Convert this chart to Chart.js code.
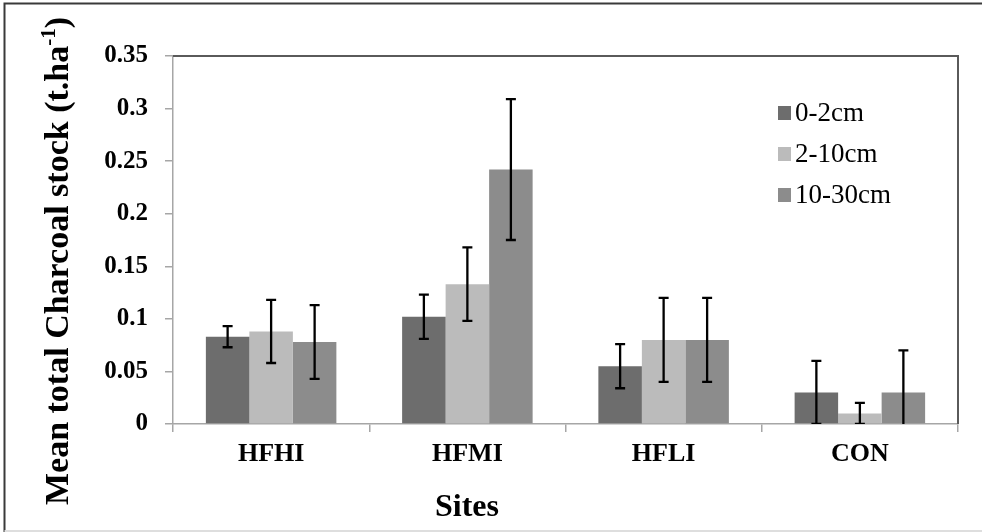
<!DOCTYPE html>
<html><head><meta charset="utf-8">
<script src="https://cdn.jsdelivr.net/npm/chart.js@4"></script>
<style>html,body{margin:0;padding:0;background:#fff;overflow:hidden}#wrap{width:982px;height:532px}</style>
</head><body><div id="wrap"><canvas id="c" width="982" height="532"></canvas></div>
<script>
const categories = ['HFHI', 'HFMI', 'HFLI', 'CON'];
const seriesNames = ['0-2cm', '2-10cm', '10-30cm'];
const values0to2 = [0.083, 0.102, 0.055, 0.030];
const values2to10 = [0.088, 0.133, 0.080, 0.010];
const values10to30 = [0.078, 0.242, 0.080, 0.030];
const err0to2 = [0.010, 0.021, 0.021, 0.030];
const err2to10 = [0.030, 0.035, 0.040, 0.010];
const err10to30 = [0.035, 0.067, 0.040, 0.040];
const seriesColors = ['#6d6d6d', '#bbbbbb', '#8c8c8c'];
const yTickLabels = ['0', '0.05', '0.1', '0.15', '0.2', '0.25', '0.3', '0.35'];
const yTitleMain = 'Mean total Charcoal stock (t.ha';
const yTitleSup = '-1';
const yTitleEnd = ')';
const xTitle = 'Sites';

const FONT = "'Liberation Serif', 'Times New Roman', serif";
const seriesValues = [values0to2, values2to10, values10to30];
const seriesErrors = [err0to2, err2to10, err10to30];

const figurePlugin = {
  id: 'figure',
  beforeDraw(chart) {
    const c = chart.ctx;
    c.save();
    c.fillStyle = '#fff';
    c.fillRect(0, 0, chart.width, chart.height);
    c.strokeStyle = '#3a3a3a';
    c.lineWidth = 2;
    c.beginPath(); c.moveTo(4.5, 532); c.lineTo(4.5, 3.5); c.lineTo(982, 3.5); c.stroke();
    c.strokeStyle = '#dedede';
    c.beginPath(); c.moveTo(4.5, 531); c.lineTo(982, 531); c.stroke();
    c.restore();
  },
  afterDatasetsDraw(chart) {
    const c = chart.ctx;
    const ys = chart.scales.y;
    const a = chart.chartArea;
    c.save();
    c.beginPath(); c.rect(a.left, a.top - 2, a.right - a.left, a.bottom - a.top + 2); c.clip();
    c.strokeStyle = '#000';
    c.lineWidth = 2.3;
    seriesValues.forEach((vals, i) => {
      const meta = chart.getDatasetMeta(i);
      vals.forEach((v, j) => {
        const x = meta.data[j].x;
        const hi = ys.getPixelForValue(v + seriesErrors[i][j]);
        const lo = ys.getPixelForValue(v - seriesErrors[i][j]);
        c.beginPath();
        c.moveTo(x, hi); c.lineTo(x, lo);
        c.moveTo(x - 5, hi); c.lineTo(x + 5, hi);
        c.moveTo(x - 5, lo); c.lineTo(x + 5, lo);
        c.stroke();
      });
    });
    c.restore();
    c.save();
    c.strokeStyle = '#5a5a5a';
    c.lineWidth = 2;
    c.beginPath(); c.moveTo(a.left, a.top); c.lineTo(a.right, a.top); c.lineTo(a.right, a.bottom); c.stroke();
    c.restore();
  },
  afterDraw(chart) {
    const c = chart.ctx;
    c.save();
    // legend
    c.font = '27px ' + FONT;
    c.textBaseline = 'middle';
    c.textAlign = 'left';
    chart.data.datasets.forEach((ds, i) => {
      const cy = 113 + i * 41;
      c.fillStyle = ds.backgroundColor;
      c.fillRect(778, cy - 7, 13, 14);
      c.fillStyle = '#000';
      c.fillText(ds.label, 795, cy + 1);
    });
    // x title
    c.font = 'bold 32px ' + FONT;
    c.textAlign = 'center';
    c.textBaseline = 'alphabetic';
    c.fillText(xTitle, 467, 516);
    // y title
    c.translate(68, 0);
    c.rotate(-Math.PI / 2);
    const fMain = 'bold 34px ' + FONT;
    const fSup = 'bold 21px ' + FONT;
    c.font = fMain;
    const w1 = c.measureText(yTitleMain).width;
    const w3 = c.measureText(yTitleEnd).width;
    c.font = fSup;
    const w2 = c.measureText(yTitleSup).width;
    const total = w1 + w2 + w3;
    let x0 = -261 - total / 2;
    c.textAlign = 'left';
    c.font = fMain; c.fillText(yTitleMain, x0, 0);
    c.font = fSup; c.fillText(yTitleSup, x0 + w1, -13);
    c.font = fMain; c.fillText(yTitleEnd, x0 + w1 + w2, 0);
    c.restore();
  }
};

new Chart(document.getElementById('c'), {
  type: 'bar',
  data: {
    labels: categories,
    datasets: seriesNames.map((name, i) => ({
      label: name,
      data: seriesValues[i],
      backgroundColor: seriesColors[i],
      borderWidth: 0,
      categoryPercentage: 0.665,
      barPercentage: 1.0
    }))
  },
  options: {
    responsive: false,
    animation: false,
    layout: { padding: { left: 0, top: 56, right: 24, bottom: 0 } },
    plugins: { legend: { display: false }, tooltip: { enabled: false } },
    scales: {
      x: {
        afterFit(s) { s.height = 108; },
        grid: { offset: true, drawOnChartArea: false, tickLength: 8, color: '#a6a6a6', lineWidth: 1.5 },
        border: { color: '#a6a6a6', width: 1.5 },
        ticks: { color: '#000', padding: 7, font: { family: FONT, size: 26, weight: 'bold' } }
      },
      y: {
        min: 0, max: 0.35,
        afterFit(s) { s.width = 173; },
        afterBuildTicks(s) { s.ticks = yTickLabels.map(t => ({ value: parseFloat(t) })); },
        grid: { drawOnChartArea: false, tickLength: 8, color: '#a6a6a6', lineWidth: 1.5 },
        border: { color: '#a6a6a6', width: 1.5 },
        ticks: {
          color: '#000', padding: 17,
          font: { family: FONT, size: 25, weight: 'bold' },
          callback: (v, i) => yTickLabels[i]
        }
      }
    }
  },
  plugins: [figurePlugin]
});
</script>
</body></html>
